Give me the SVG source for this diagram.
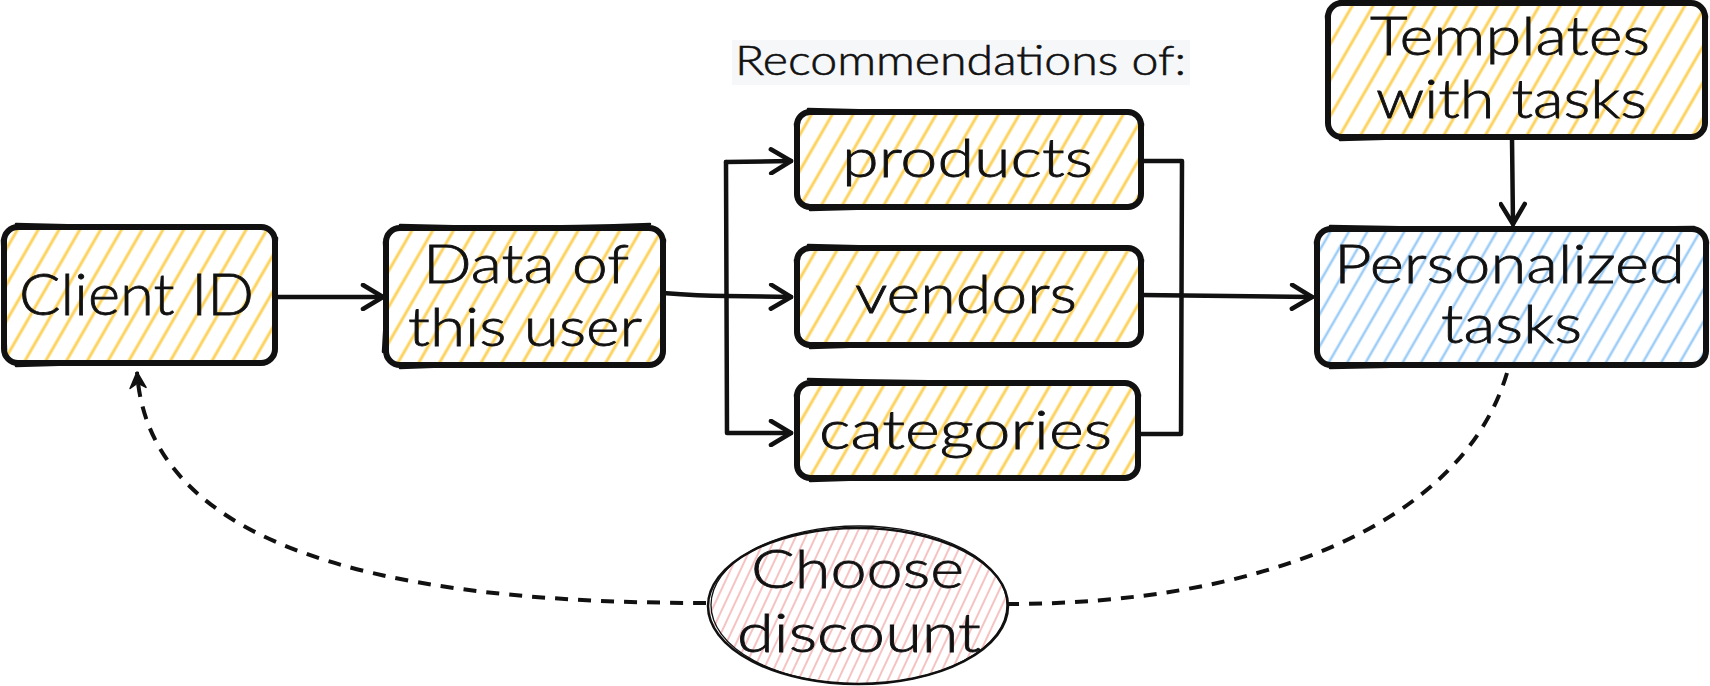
<svg xmlns="http://www.w3.org/2000/svg" width="1710" height="686" viewBox="0 0 1710 686">
<style>
.t{font-family:Lato,"Liberation Sans",sans-serif;font-weight:300;fill:#111111;stroke:#111111;stroke-width:0.8;text-anchor:middle;font-size:54px}
.box{fill:none;stroke:#111111;stroke-width:6;stroke-linejoin:round;stroke-linecap:round}
.rough{fill:none;stroke:#111111;stroke-width:2.5;stroke-linecap:round}
.con{fill:none;stroke:#111111;stroke-width:4.5;stroke-linecap:round;stroke-linejoin:round}
.dash{fill:none;stroke:#111111;stroke-width:4;stroke-dasharray:13 10}
</style>
<defs>
<pattern id="hy" patternUnits="userSpaceOnUse" width="18" height="18" patternTransform="rotate(30)"><line x1="4" y1="0" x2="4" y2="18" stroke="#fcd35e" stroke-width="3"/></pattern>
<pattern id="hb" patternUnits="userSpaceOnUse" width="16" height="16" patternTransform="rotate(30)"><line x1="4" y1="0" x2="4" y2="16" stroke="#9ecdf6" stroke-width="2.6"/></pattern>
<pattern id="hp" patternUnits="userSpaceOnUse" width="9" height="9" patternTransform="rotate(25)"><line x1="3" y1="0" x2="3" y2="9" stroke="#f6c3c3" stroke-width="2"/></pattern>
<marker id="chev" markerUnits="userSpaceOnUse" viewBox="-24 -14 28 28" markerWidth="28" markerHeight="28" refX="0" refY="0" orient="auto"><path d="M-20,-12 L0,0 L-20,12" fill="none" stroke="#111111" stroke-width="4.5" stroke-linecap="round" stroke-linejoin="round"/></marker>
<marker id="tri" markerUnits="userSpaceOnUse" viewBox="-18 -10 20 20" markerWidth="20" markerHeight="20" refX="0" refY="0" orient="auto"><path d="M0,0 L-16,-8 L-11,0 L-16,8 Z" fill="#111111" stroke="#111111" stroke-width="1.5" stroke-linejoin="round"/></marker>
</defs>
<rect width="1710" height="686" fill="#ffffff"/>

<g id="connectors">
<path class="con" d="M276,297 L383,297" marker-end="url(#chev)"/>
<path class="con" d="M663,293 Q700,296 726,296 L791,297" marker-end="url(#chev)"/>
<path class="con" d="M726,162 L791,161" marker-end="url(#chev)"/>
<path class="con" d="M726,162 L727,433 L791,433" marker-end="url(#chev)"/>
<path class="con" d="M1141,161 L1182,161 L1181,434 L1140,434"/>
<path class="con" d="M1141,295 L1312,297" marker-end="url(#chev)"/>
<path class="con" d="M1512,138 L1513,224" marker-end="url(#chev)"/>
<path class="dash" d="M1507,373 C1460,530 1250,604 1008,604"/>
<path class="dash" d="M706,603 C450,603 150,570 137,372" marker-end="url(#tri)"/>
</g>

<g id="recommendations-label">
<rect x="732" y="40" width="458" height="45" fill="#f6f7f9"/>
<text class="t" x="960.5" y="75" style="font-size:42px;stroke-width:0.6" textLength="451" lengthAdjust="spacingAndGlyphs">Recommendations of:</text>
</g>

<g id="client-id">
<rect x="4" y="227" width="271" height="136" rx="14" fill="url(#hy)"/>
<rect class="box" x="4" y="227" width="271" height="136" rx="14"/>
<path class="rough" d="M16,224 Q140,228 262,226 M2,240 Q4,300 6,350 M277,238 Q273,300 276,352 M16,366 Q140,361 264,364"/>
<text class="t" x="136.5" y="315" style="font-size:58px" textLength="235" lengthAdjust="spacingAndGlyphs">Client ID</text>
</g>

<g id="data-user">
<rect x="386" y="228" width="277" height="137" rx="14" fill="url(#hy)"/>
<rect class="box" x="386" y="228" width="277" height="137" rx="14"/>
<path class="rough" d="M400,225 Q520,229 650,224 M384,242 Q387,300 383,352 M665,240 Q661,300 664,354 M400,368 Q520,363 650,366"/>
<text class="t" x="526" y="283" textLength="206" lengthAdjust="spacingAndGlyphs">Data of</text>
<text class="t" x="525" y="346" textLength="234" lengthAdjust="spacingAndGlyphs">this user</text>
</g>

<g id="products">
<rect x="797" y="112" width="344" height="95" rx="13" fill="url(#hy)"/>
<rect class="box" x="797" y="112" width="344" height="95" rx="13"/>
<path class="rough" d="M808,109 Q960,113 1128,111 M795,124 Q799,160 796,196 M1143,124 Q1139,160 1142,196 M810,210 Q960,205 1128,208"/>
<text class="t" x="967.5" y="177" textLength="251" lengthAdjust="spacingAndGlyphs">products</text>
</g>

<g id="vendors">
<rect x="797" y="248" width="344" height="97" rx="13" fill="url(#hy)"/>
<rect class="box" x="797" y="248" width="344" height="97" rx="13"/>
<path class="rough" d="M808,245 Q960,249 1128,247 M795,260 Q799,296 796,334 M1143,260 Q1139,296 1142,334 M810,348 Q960,343 1128,346"/>
<text class="t" x="966" y="313" textLength="222" lengthAdjust="spacingAndGlyphs">vendors</text>
</g>

<g id="categories">
<rect x="797" y="383" width="341" height="95" rx="13" fill="url(#hy)"/>
<rect class="box" x="797" y="383" width="341" height="95" rx="13"/>
<path class="rough" d="M808,379 Q960,383 1125,382 M795,395 Q799,430 796,466 M1140,395 Q1136,430 1139,466 M810,481 Q960,476 1125,479"/>
<text class="t" x="965.5" y="449" textLength="293" lengthAdjust="spacingAndGlyphs">categories</text>
</g>

<g id="templates">
<rect x="1328" y="3" width="377" height="134" rx="14" fill="url(#hy)"/>
<rect class="box" x="1328" y="3" width="377" height="134" rx="14"/>
<path class="rough" d="M1340,1 Q1510,4 1692,2 M1326,16 Q1330,70 1327,124 M1707,16 Q1703,70 1706,124 M1340,140 Q1510,135 1692,138"/>
<text class="t" x="1510" y="55" textLength="280" lengthAdjust="spacingAndGlyphs">Templates</text>
<text class="t" x="1511.5" y="118" textLength="271" lengthAdjust="spacingAndGlyphs">with tasks</text>
</g>

<g id="personalized">
<rect x="1317" y="229" width="389" height="136" rx="14" fill="url(#hb)"/>
<rect class="box" x="1317" y="229" width="389" height="136" rx="14"/>
<path class="rough" d="M1330,226 Q1510,230 1694,227 M1315,242 Q1319,300 1316,352 M1708,242 Q1704,300 1707,352 M1330,368 Q1510,363 1694,366"/>
<text class="t" x="1509.5" y="283" textLength="351" lengthAdjust="spacingAndGlyphs">Personalized</text>
<text class="t" x="1511.5" y="343" textLength="141" lengthAdjust="spacingAndGlyphs">tasks</text>
</g>

<g id="choose-discount">
<ellipse cx="858" cy="606" rx="150" ry="78" fill="url(#hp)"/>
<ellipse cx="858" cy="606" rx="150" ry="78" fill="none" stroke="#111111" stroke-width="2.5"/>
<ellipse cx="859" cy="605" rx="148" ry="79" fill="none" stroke="#111111" stroke-width="1.3"/>
<text class="t" x="857.5" y="588" textLength="213" lengthAdjust="spacingAndGlyphs">Choose</text>
<text class="t" x="859" y="652" textLength="244" lengthAdjust="spacingAndGlyphs">discount</text>
</g>
</svg>
